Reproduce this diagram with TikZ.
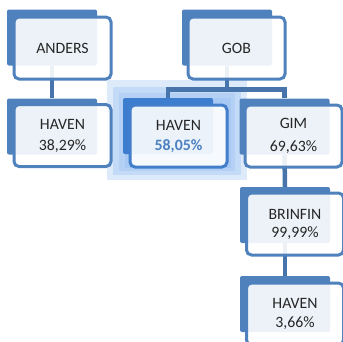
\documentclass[tikz,border=0pt]{standalone}
\usepackage{fontspec}
\setmainfont{Carlito}
\definecolor{boxblue}{HTML}{4F81BD}
\definecolor{hiblue}{HTML}{3D7DD0}
\definecolor{glowblue}{HTML}{8DB8F0}
\definecolor{txt}{HTML}{262626}
\tikzset{back/.style={rectangle,rounded corners=2pt,fill=boxblue,draw=none,minimum width=90pt,minimum height=56pt,inner sep=0pt}}
\tikzset{front/.style={rectangle,rounded corners=5pt,fill=white,fill opacity=0.9,text opacity=1,draw=boxblue,line width=3pt,minimum width=97pt,minimum height=62pt,inner sep=0pt,align=center,text=txt,font=\fontsize{15.8}{21}\selectfont}}
\tikzset{link/.style={boxblue!90!black,line width=4.5pt}}
\tikzset{glow/.style={rectangle,fill=glowblue,fill opacity=0.3,draw=none,inner sep=0pt}}

\begin{document}
\begin{tikzpicture}[x=1pt,y=-1pt]
  \useasboundingbox (0,0) rectangle (343,341);
      % highlight behind the middle HAVEN
      \node[glow,minimum width=140pt,minimum height=100pt] (g1) at (177,130) {};
      \node[glow,minimum width=128pt,minimum height=88pt] (g2) at (177,131) {};
      \node[glow,minimum width=116pt,minimum height=78pt] (g3) at (177,132) {};
      \node[glow,minimum width=106pt,minimum height=70pt] (g4) at (178,133) {};
      % back plates
      \node[back] (anders) at (52,37.5) {};
      \node[back] (gob) at (227,37.5) {};
      \node[back] (haven1) at (52,126.5) {};
      \node[back,fill=hiblue] (haven2) at (168,126) {};
      \node[back] (gim) at (284.5,126.5) {};
      \node[back] (brinfin) at (285,215) {};
      \node[back] (haven3) at (285,304) {};
        \draw[link] (anders.south) -- (haven1.north);
        \draw[link] (gob.south) -- ++(0,24) -| (haven2.north);
        \draw[link] (gob.south) -- ++(0,24) -| (gim.north);
        \draw[link] (gim.south) -- (brinfin.north);
        \draw[link] (brinfin.south) -- (haven3.north);
      % front cards
      \node[front] (anders-f) at ([shift={(10.5,10.5)}]anders.center) {ANDERS};
      \node[front] (gob-f) at ([shift={(9.5,10.5)}]gob.center) {GOB};
      \node[front] (haven1-f) at ([shift={(10.5,9)}]haven1.center) {HAVEN\\38,29\%};
      \node[front,draw=hiblue!70!boxblue] (haven2-f) at ([shift={(10.5,10)}]haven2.center) {HAVEN\\[-1pt]\textbf{\color{boxblue!80!hiblue}58,05\%}};
      \node[front] (gim-f) at ([shift={(9,9.5)}]gim.center) {GIM\\[2pt]69,63\%};
      \node[front] (brinfin-f) at ([shift={(10,9)}]brinfin.center) {BRINFIN\\[-3pt]99,99\%};
      \node[front] (haven3-f) at ([shift={(10,10)}]haven3.center) {HAVEN\\[-2pt]3,66\%};
    \end{tikzpicture}
\end{document}
